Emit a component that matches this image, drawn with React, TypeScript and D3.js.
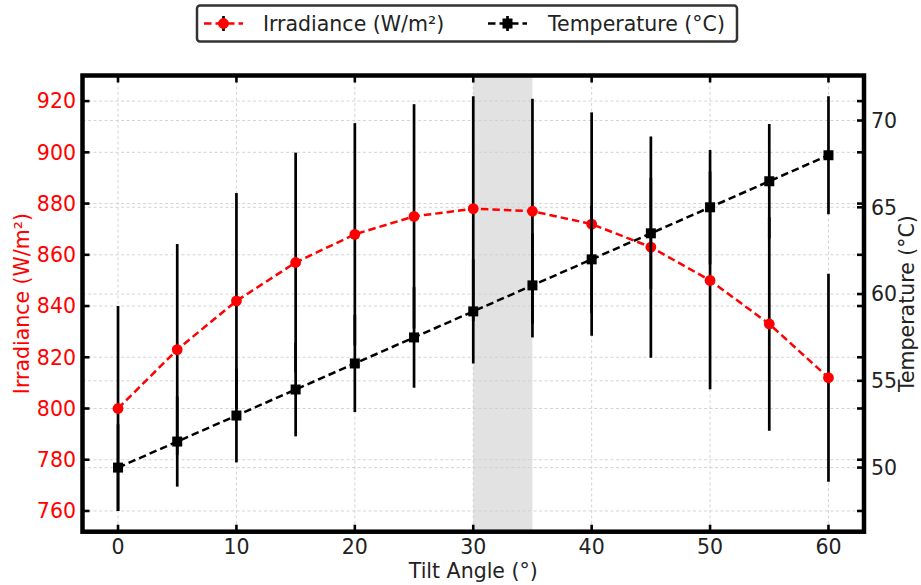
import React from "react";
import * as d3 from "d3";

const angles = [0, 5, 10, 15, 20, 25, 30, 35, 40, 45, 50, 55, 60];
const irradiance = [800, 823, 842, 857, 868, 875, 878, 877, 872, 863, 850, 833, 812];
const irradianceErr = [40, 41.2, 42.1, 42.9, 43.4, 43.8, 43.9, 43.9, 43.6, 43.2, 42.5, 41.7, 40.6];
const temperature = [50, 51.5, 53, 54.5, 56, 57.5, 59, 60.5, 62, 63.5, 65, 66.5, 68];
const temperatureErr = [2.5, 2.6, 2.7, 2.7, 2.8, 2.9, 3.0, 3.0, 3.1, 3.2, 3.3, 3.3, 3.4];
const angleTicks = [0, 10, 20, 30, 40, 50, 60];
const irradianceTicks = [760, 780, 800, 820, 840, 860, 880, 900, 920];
const temperatureTicks = [50, 55, 60, 65, 70];
const optimalRange = [30, 35];

const W = 921;
const H = 585;
const FL = 82.5, FR = 864, FT = 75.5, FB = 531.7;
const FONT = "'DejaVu Sans', sans-serif";
const FS = 20.5;
const RED = "#ff0000";
const TXT = "#222";

function padded(lo: number, hi: number): [number, number] {
  const m = (hi - lo) * 0.05;
  return [lo - m, hi + m];
}

export default function App() {
  const xDom = padded(d3.min(angles)!, d3.max(angles)!);
  const x = d3.scaleLinear().domain(xDom).range([FL, FR]);
  const yIDom = padded(
    d3.min(irradiance.map((v, i) => v - irradianceErr[i]))!,
    d3.max(irradiance.map((v, i) => v + irradianceErr[i]))!
  );
  const yI = d3.scaleLinear().domain(yIDom).range([FB, FT]);
  const yTDom = padded(
    d3.min(temperature.map((v, i) => v - temperatureErr[i]))!,
    d3.max(temperature.map((v, i) => v + temperatureErr[i]))!
  );
  const yT = d3.scaleLinear().domain(yTDom).range([FB, FT]);

  const lineI = d3.line<number>().x((_, i) => x(angles[i])).y((d) => yI(d));
  const lineT = d3.line<number>().x((_, i) => x(angles[i])).y((d) => yT(d));

  const gridStyle = { stroke: "#cfcfcf", strokeWidth: 0.9, strokeDasharray: "3,2.5" };
  const tickLen = 7;
  const tickW = 2.6;

  return (
    <svg
      width={W}
      height={H}
      style={{ position: "absolute", left: 0, top: 0, background: "#fff" }}
      fontFamily={FONT}
    >
      <rect x={0} y={0} width={W} height={H} fill="#fff" />
      {/* shaded optimal range */}
      <rect
        x={x(optimalRange[0])}
        y={FT}
        width={x(optimalRange[1]) - x(optimalRange[0])}
        height={FB - FT}
        fill="#e2e2e2"
      />
      {/* grid */}
      <g>
        {angleTicks.map((t) => (
          <line key={"gx" + t} x1={x(t)} x2={x(t)} y1={FT} y2={FB} {...gridStyle} />
        ))}
        {irradianceTicks.map((t) => (
          <line key={"gi" + t} x1={FL} x2={FR} y1={yI(t)} y2={yI(t)} {...gridStyle} />
        ))}
        {temperatureTicks.map((t) => (
          <line key={"gt" + t} x1={FL} x2={FR} y1={yT(t)} y2={yT(t)} {...gridStyle} />
        ))}
      </g>
      {/* irradiance series */}
      <g>
        {irradiance.map((v, i) => (
          <line
            key={"ei" + i}
            x1={x(angles[i])}
            x2={x(angles[i])}
            y1={yI(v - irradianceErr[i])}
            y2={yI(v + irradianceErr[i])}
            stroke="#000"
            strokeWidth={2.7}
          />
        ))}
        <path d={lineI(irradiance)!} fill="none" stroke={RED} strokeWidth={2.5} strokeDasharray="7.5,4" />
        {irradiance.map((v, i) => (
          <circle key={"mi" + i} cx={x(angles[i])} cy={yI(v)} r={5.4} fill={RED} />
        ))}
      </g>
      {/* temperature series */}
      <g>
        {temperature.map((v, i) => (
          <line
            key={"et" + i}
            x1={x(angles[i])}
            x2={x(angles[i])}
            y1={yT(v - temperatureErr[i])}
            y2={yT(v + temperatureErr[i])}
            stroke="#000"
            strokeWidth={2.7}
          />
        ))}
        <path d={lineT(temperature)!} fill="none" stroke="#000" strokeWidth={2.5} strokeDasharray="7.5,4" />
        {temperature.map((v, i) => (
          <rect key={"mt" + i} x={x(angles[i]) - 5} y={yT(v) - 5} width={10} height={10} fill="#000" />
        ))}
      </g>
      {/* ticks */}
      <g stroke="#000" strokeWidth={tickW}>
        {angleTicks.map((t) => (
          <g key={"tx" + t}>
            <line x1={x(t)} x2={x(t)} y1={FB} y2={FB - tickLen} />
            <line x1={x(t)} x2={x(t)} y1={FT} y2={FT + tickLen} />
          </g>
        ))}
        {irradianceTicks.map((t) => (
          <g key={"ti" + t}>
            <line x1={FL} x2={FL + tickLen} y1={yI(t)} y2={yI(t)} />
            <line x1={FR} x2={FR - tickLen} y1={yI(t)} y2={yI(t)} />
          </g>
        ))}
        {temperatureTicks.map((t) => (
          <line key={"tt" + t} x1={FR} x2={FR - tickLen} y1={yT(t)} y2={yT(t)} />
        ))}
      </g>
      {/* frame */}
      <rect x={FL} y={FT} width={FR - FL} height={FB - FT} fill="none" stroke="#000" strokeWidth={4.5} />
      {/* tick labels */}
      <g fontSize={FS}>
        {angleTicks.map((t) => (
          <text key={"lx" + t} x={x(t)} y={554} textAnchor="middle" fill={TXT}>
            {t}
          </text>
        ))}
        {irradianceTicks.map((t) => (
          <text key={"li" + t} x={76} y={yI(t)} dy="0.36em" textAnchor="end" fill={RED}>
            {t}
          </text>
        ))}
        {temperatureTicks.map((t) => (
          <text key={"lt" + t} x={871} y={yT(t)} dy="0.36em" textAnchor="start" fill={TXT}>
            {t}
          </text>
        ))}
      </g>
      {/* axis labels */}
      <g fontSize={FS}>
        <text x={(FL + FR) / 2} y={578} textAnchor="middle" fill={TXT}>
          Tilt Angle (°)
        </text>
        <text
          transform={`translate(29,${(FT + FB) / 2}) rotate(-90)`}
          textAnchor="middle"
          fill={RED}
        >
          Irradiance (W/m²)
        </text>
        <text
          transform={`translate(914,${(FT + FB) / 2}) rotate(-90)`}
          textAnchor="middle"
          fill={TXT}
        >
          Temperature (°C)
        </text>
      </g>
      {/* legend */}
      <g>
        <rect x={197} y={5.5} width={540} height={36} rx={3} fill="#fff" stroke="#333" strokeWidth={2.5} />
        <line x1={204} x2={243} y1={23.5} y2={23.5} stroke={RED} strokeWidth={2.5} strokeDasharray="7.5,4" />
        <line x1={223.5} x2={223.5} y1={16} y2={31} stroke="#000" strokeWidth={2.7} />
        <circle cx={223.5} cy={23.5} r={5.4} fill={RED} />
        <text x={263} y={23.5} dy="0.36em" fontSize={FS} fill={TXT}>
          Irradiance (W/m²)
        </text>
        <line x1={488} x2={527} y1={23.5} y2={23.5} stroke="#000" strokeWidth={2.5} strokeDasharray="7.5,4" />
        <line x1={507.5} x2={507.5} y1={16} y2={31} stroke="#000" strokeWidth={2.7} />
        <rect x={502.5} y={18.5} width={10} height={10} fill="#000" />
        <text x={548} y={23.5} dy="0.36em" fontSize={FS} fill={TXT}>
          Temperature (°C)
        </text>
      </g>
    </svg>
  );
}
